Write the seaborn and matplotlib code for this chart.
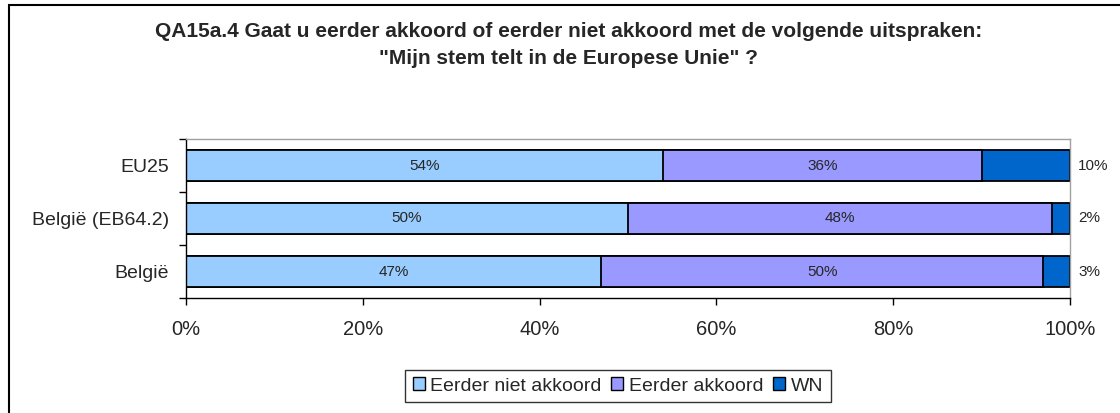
import matplotlib
matplotlib.use("Agg")
import matplotlib.pyplot as plt
from matplotlib.patches import Rectangle, Patch
import numpy as np
import pandas as pd
import seaborn as sns

categories = ["EU25", "België (EB64.2)", "België"]
niet_akkoord = [54, 50, 47]
akkoord = [36, 48, 50]
wn = [10, 2, 3]
series_names = ["Eerder niet akkoord", "Eerder akkoord", "WN"]
colors = ["#99CCFF", "#9999FF", "#0066CC"]
x_ticks = [0, 20, 40, 60, 80, 100]
title = ('QA15a.4 Gaat u eerder akkoord of eerder niet akkoord met de volgende uitspraken:\n'
         '"Mijn stem telt in de Europese Unie" ?')

sns.set_theme(style="white")
plt.rcParams["font.family"] = ["Liberation Sans", "DejaVu Sans"]

df = pd.DataFrame({
    "cat": categories,
    "niet": niet_akkoord,
    "akk": akkoord,
    "wn": wn,
})
df["c1"] = df["niet"]
df["c2"] = df["niet"] + df["akk"]
df["c3"] = df["niet"] + df["akk"] + df["wn"]

fig = plt.figure(figsize=(11.2, 4.13), dpi=100)
ax = fig.add_axes([186 / 1120, 1 - 298 / 413, (1070 - 186) / 1120, (298 - 139) / 413])

# stacked bars: draw cumulative totals from the widest to the narrowest
for col, color in zip(["c3", "c2", "c1"], colors[::-1]):
    sns.barplot(data=df, x=col, y="cat", orient="h", color=color, width=0.58,
                edgecolor="black", linewidth=1.3, saturation=1, ax=ax)

ax.set_xlim(0, 100)
ax.set_ylim(2.5, -0.5)
ax.set_xlabel("")
ax.set_ylabel("")

ax.set_xticks(x_ticks)
ax.set_xticklabels([f"{t}%" for t in x_ticks], fontsize=14.5)
ax.set_yticks([0, 1, 2])
ax.set_yticklabels(categories, fontsize=14)
ax.set_yticks([-0.5, 0.5, 1.5, 2.5], minor=True)
ax.tick_params(axis="y", which="major", length=0, pad=12)
ax.tick_params(axis="y", which="minor", length=5, width=1, color="black", direction="out", left=True)
ax.tick_params(axis="x", which="major", length=5, width=1, color="black", direction="out",
               bottom=True, pad=11)

for side in ["left", "bottom"]:
    ax.spines[side].set_color("black")
    ax.spines[side].set_linewidth(1.0)
for side in ["top", "right"]:
    ax.spines[side].set_color("#A0A0A0")
    ax.spines[side].set_linewidth(1.0)
ax.grid(False)

# value labels
for i in range(len(categories)):
    ax.text(niet_akkoord[i] / 2, i, f"{niet_akkoord[i]}%", ha="center", va="center", fontsize=11)
    ax.text(niet_akkoord[i] + akkoord[i] / 2, i, f"{akkoord[i]}%", ha="center", va="center", fontsize=11)
    ax.text(100 + 0.9, i, f"{wn[i]}%", ha="left", va="center", fontsize=11)

fig.text(0.508, 1 - 45 / 413, title, ha="center", va="center", fontsize=15,
         fontweight="bold", linespacing=1.5)

handles = [Patch(facecolor=c, edgecolor="black", linewidth=1) for c in colors]
leg = fig.legend(handles, series_names, loc="center", bbox_to_anchor=(618 / 1120, 1 - 386 / 413),
                 ncol=3, fontsize=14, frameon=True, fancybox=False, handlelength=0.6,
                 handleheight=0.6, handletextpad=0.3, columnspacing=0.5, borderpad=0.4)
leg.get_frame().set_edgecolor("black")
leg.get_frame().set_linewidth(1.0)

fig.patches.append(Rectangle((9 / 1120, -0.2), 1.2, 1.2 - 5 / 413,
                             transform=fig.transFigure, fill=False,
                             edgecolor="black", linewidth=1.5))

fig.savefig("out.png", dpi=100)
